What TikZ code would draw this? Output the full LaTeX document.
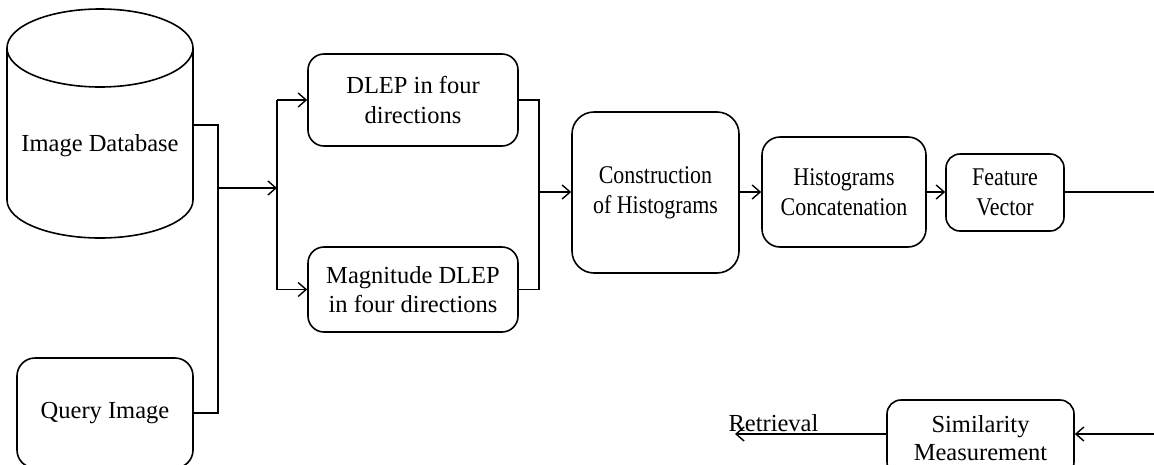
\documentclass[tikz,border=0pt]{standalone}
\usepackage{fontspec}
\usepackage{graphicx}
\setmainfont{Liberation Serif}
\usetikzlibrary{arrows.meta}
\newcommand{\cond}[1]{\scalebox{0.86}[1]{#1}}
\begin{document}
\begin{tikzpicture}[x=1pt,y=-1pt,
  line width=1.6pt,
  >={Straight Barb[length=8pt,width=14pt,line width=1.4pt]},
  big/.style={font=\fontsize{24.5}{29.5}\selectfont},
  small/.style={font=\fontsize{25.5}{30}\selectfont},
  box/.style={draw,rounded corners=16pt,align=center,inner sep=0pt},
]
\useasboundingbox (0,0) rectangle (1154,464);
% cylinder
\draw (7,48) -- (7,200) arc[start angle=180,end angle=360,x radius=93,y radius=-38] -- (193,48);
\draw (100,48) ellipse[x radius=93,y radius=39];
\node[big] (db) at (100,146) {Image Database};
\coordinate (dbout) at (193,125);
% query
\node[box,big,minimum width=176pt,minimum height=110pt,rounded corners=18pt] (q) at (105,413) {Query Image};
% DLEP boxes
\node[box,big,minimum width=210pt,minimum height=92pt] (dlep) at (413,100) {DLEP in four\\directions};
\node[box,big,minimum width=210pt,minimum height=85pt] (mag) at (413,289.5) {Magnitude DLEP\\in four directions};
% construction etc.
\node[box,small,minimum width=167pt,minimum height=161pt,rounded corners=22pt] (cons) at (655.5,192.5) {\cond{Construction}\\\cond{of Histograms}};
\node[box,small,minimum width=164pt,minimum height=110pt,rounded corners=18pt] (hist) at (844,192) {\cond{Histograms}\\\cond{Concatenation}};
\node[box,small,minimum width=118pt,minimum height=77pt,rounded corners=14pt] (feat) at (1005,192.5) {\cond{Feature}\\\cond{Vector}};
\node[box,minimum width=187pt,minimum height=76pt,rounded corners=14pt,font=\fontsize{24.5}{28.5}\selectfont] (sim) at (980.5,438) {Similarity\\Measurement};
\node[big,inner sep=0pt] (ret) at (773.5,423) {Retrieval};
% junctions
\coordinate (j1) at (218,188);
\coordinate (j2) at (277,188);
\coordinate (j3) at (539,192);
\coordinate (fout) at (1154,192);
\coordinate (sin) at (1154,434);
\coordinate (rend) at (735,434);
% connectors
\draw (dbout) -- (218,125) -- (218,413) -- (q.east);
\draw[->] (j1) -- (j2);
\draw (277,100) -- (277,289.5);
\draw[->] (277,100) -- (dlep.west);
\draw[->] (277,289.5) -- (mag.west);
\draw (dlep.east) -| (j3) |- (mag.east);
\draw[->] (j3) -- (cons.west |- j3);
\draw[->] (cons.east |- hist.west) -- (hist.west);
\draw[->] (hist.east) -- (feat.west |- hist.east);
\draw (feat.east |- fout) -- (fout);
\draw[->] (sin) -- (sim.east |- sin);
\draw[->] (sim.west |- rend) -- (rend);
\end{tikzpicture}
\end{document}
